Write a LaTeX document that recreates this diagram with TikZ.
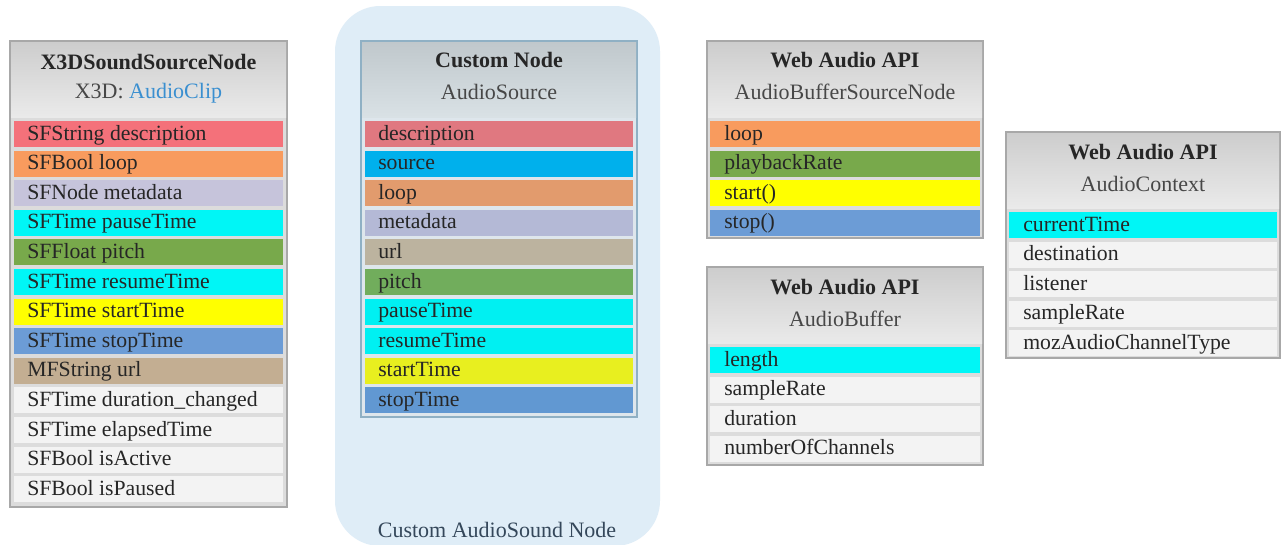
\documentclass[tikz,border=0pt]{standalone}
\usepackage{fontspec}
\setmainfont{Liberation Serif}
\definecolor{cRed}{HTML}{F4717A}
\definecolor{cOrange}{HTML}{F89B5E}
\definecolor{cLav}{HTML}{C6C4DB}
\definecolor{cCyan}{HTML}{00F6F6}
\definecolor{cGreen}{HTML}{78A94B}
\definecolor{cYellow}{HTML}{FFFF00}
\definecolor{cBlue}{HTML}{6C9CD6}
\definecolor{cTan}{HTML}{C3AE92}
\definecolor{cWhite}{HTML}{F3F3F3}
\definecolor{kRed}{HTML}{E07880}
\definecolor{kSrc}{HTML}{00B0EC}
\definecolor{kOrange}{HTML}{E29B6D}
\definecolor{kLav}{HTML}{B4B9D6}
\definecolor{kTan}{HTML}{BCB39F}
\definecolor{kGreen}{HTML}{71AD5C}
\definecolor{kCyan}{HTML}{00F0F2}
\definecolor{kYellow}{HTML}{E8EF1F}
\definecolor{kBlue}{HTML}{6198D2}
\definecolor{linkblue}{HTML}{3A8FD0}
\definecolor{frame}{HTML}{A8A8A8}
\definecolor{gapgray}{HTML}{DCDCDC}
\definecolor{hdrTop}{HTML}{CDCDCD}
\definecolor{hdrMid}{HTML}{A6A6A6}
\definecolor{hdrBot}{HTML}{EAEAEA}
\definecolor{chTop}{HTML}{C0C8CC}
\definecolor{chMid}{HTML}{98A4AA}
\definecolor{chBot}{HTML}{D9E1E5}
\definecolor{custbg}{HTML}{DFEDF7}
\definecolor{custframe}{HTML}{8FB0C4}
\definecolor{txt}{HTML}{262626}
\definecolor{labeltxt}{HTML}{34475A}
\tikzset{
  boxframe/.style={draw=frame, line width=1pt, fill=gapgray},
  hdrshade/.style={top color=hdrTop, middle color=hdrMid, bottom color=hdrBot},
  custshade/.style={top color=chTop, middle color=chMid, bottom color=chBot},
  titletext/.style={font=\fontsize{16.5}{18}\selectfont\bfseries, text=txt, inner sep=0pt},
  subtext/.style={font=\fontsize{16.5}{18}\selectfont, text=txt!85, inner sep=0pt},
  rowtext/.style={anchor=base west, font=\fontsize{16.3}{18}\selectfont, text=txt, inner sep=0pt},
}
\begin{document}
\begin{tikzpicture}[x=0.75pt,y=-0.75pt]
\useasboundingbox (0,0) rectangle (1281,544);
\fill[white] (0,0) rectangle (1281,544);

% ---------- X3DSoundSourceNode ----------
\draw[boxframe] (10,41) rectangle (287,507);
\shade[hdrshade] (11,42) rectangle (286,117);
\node[titletext] (x3d-title) at (148.5,62) {X3DSoundSourceNode};
\node[subtext] (x3d-sub) at (148.5,93) {X3D: \textcolor{linkblue}{AudioClip}};
\foreach \c/\t [count=\n from 0] in {
  cRed/SFString description, cOrange/SFBool loop, cLav/SFNode metadata,
  cCyan/SFTime pauseTime, cGreen/SFFloat pitch, cCyan/SFTime resumeTime,
  cYellow/SFTime startTime, cBlue/SFTime stopTime, cTan/MFString url,
  cWhite/SFTime duration\_changed, cWhite/SFTime elapsedTime,
  cWhite/SFBool isActive, cWhite/SFBool isPaused}{
  \fill[\c] (14,{121+29.6*\n}) rectangle (283,{147+29.6*\n});
  \node[rowtext] (x3d-r\n) at (27,{140+29.6*\n}) {\t};
}

% ---------- Custom AudioSound Node ----------
\fill[custbg, rounded corners=34pt] (335,6) rectangle (660,546);
\node[subtext, text=labeltxt] (cust-label) at (497,530) {Custom AudioSound Node};
\draw[draw=custframe, line width=1pt, fill=custbg!60!gapgray] (361,41) rectangle (637,417);
\shade[custshade] (362,42) rectangle (636,117);
\node[titletext] (cust-title) at (499,60) {Custom Node};
\node[subtext] (cust-sub) at (499,92) {AudioSource};
\foreach \c/\t [count=\n from 0] in {
  kRed/description, kSrc/source, kOrange/loop, kLav/metadata, kTan/url,
  kGreen/pitch, kCyan/pauseTime, kCyan/resumeTime, kYellow/startTime, kBlue/stopTime}{
  \fill[\c] (365,{121+29.6*\n}) rectangle (633,{147+29.6*\n});
  \node[rowtext] (cust-r\n) at (378,{140+29.6*\n}) {\t};
}

% ---------- AudioBufferSourceNode ----------
\draw[boxframe] (707,41) rectangle (983,238);
\shade[hdrshade] (708,42) rectangle (982,117);
\node[titletext] (absn-title) at (845,60) {Web Audio API};
\node[subtext] (absn-sub) at (845,92) {AudioBufferSourceNode};
\foreach \c/\t [count=\n from 0] in {
  cOrange/loop, cGreen/playbackRate, cYellow/start(), cBlue/stop()}{
  \fill[\c] (710,{121+29.6*\n}) rectangle (980,{147+29.6*\n});
  \node[rowtext] (absn-r\n) at (724,{140+29.6*\n}) {\t};
}

% ---------- AudioBuffer ----------
\draw[boxframe] (707,267) rectangle (983,465);
\shade[hdrshade] (708,268) rectangle (982,343);
\node[titletext] (ab-title) at (845,287) {Web Audio API};
\node[subtext] (ab-sub) at (845,319) {AudioBuffer};
\foreach \c/\t [count=\n from 0] in {
  cCyan/length, cWhite/sampleRate, cWhite/duration, cWhite/numberOfChannels}{
  \fill[\c] (710,{347+29.6*\n}) rectangle (980,{373+29.6*\n});
  \node[rowtext] (ab-r\n) at (724,{366+29.6*\n}) {\t};
}

% ---------- AudioContext ----------
\draw[boxframe] (1006,132) rectangle (1280,358);
\shade[hdrshade] (1007,133) rectangle (1279,208);
\node[titletext] (ac-title) at (1143,152) {Web Audio API};
\node[subtext] (ac-sub) at (1143,184) {AudioContext};
\foreach \c/\t [count=\n from 0] in {
  cCyan/currentTime, cWhite/destination, cWhite/listener, cWhite/sampleRate,
  cWhite/mozAudioChannelType}{
  \fill[\c] (1009,{212+29.6*\n}) rectangle (1277,{238+29.6*\n});
  \node[rowtext] (ac-r\n) at (1023,{231+29.6*\n}) {\t};
}
\end{tikzpicture}
\end{document}
